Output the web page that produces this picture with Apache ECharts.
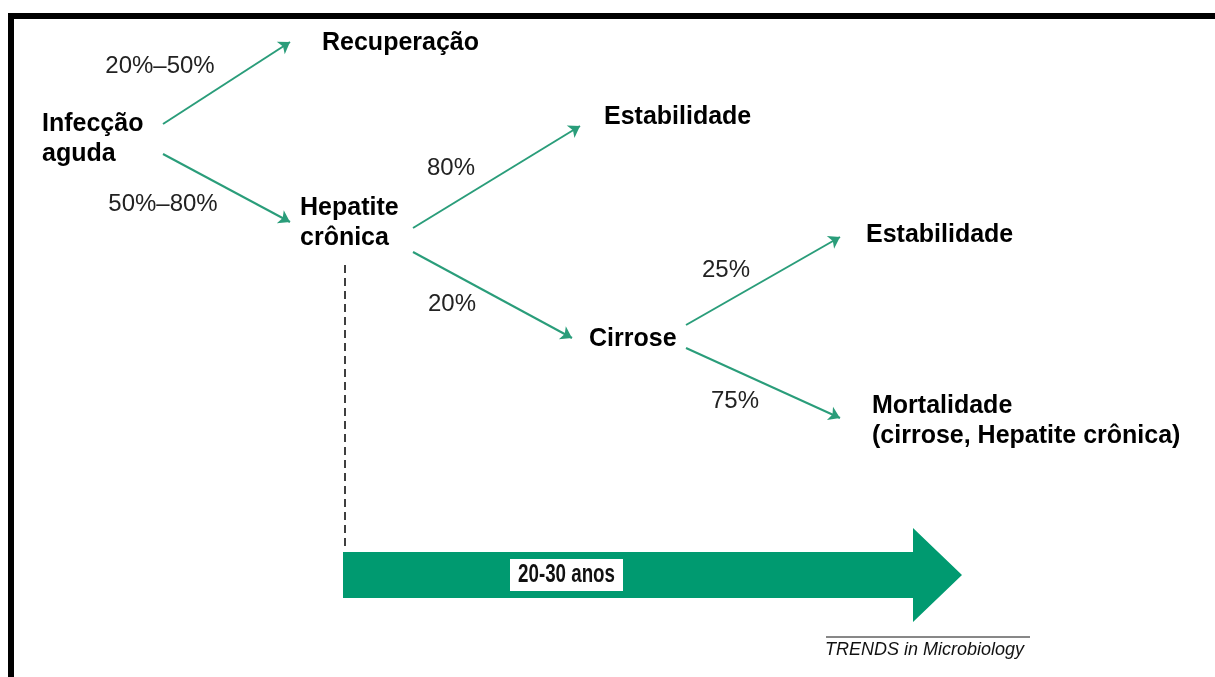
<!DOCTYPE html>
<html>
<head>
<meta charset="utf-8">
<script src="https://cdn.jsdelivr.net/npm/echarts@6/dist/echarts.min.js"></script>
<style>
html, body { margin: 0; padding: 0; background: #fff; }
#main { width: 1215px; height: 677px; }
</style>
</head>
<body>
<div id="main"></div>
<script>
// estágios da doença (centro do bloco de texto, coordenadas do diagrama)
var stageNames = ['Recuperação', 'Infecção\naguda', 'Hepatite\ncrônica', 'Estabilidade', 'Cirrose', 'Estabilidade', 'Mortalidade\n(cirrose, Hepatite crônica)'];
var stageX = [322, 42, 300, 604, 589, 866, 872];
var stageY = [43, 139, 223, 117, 339, 235, 421];

// probabilidades nas setas
var probLabels = ['20%–50%', '50%–80%', '80%', '20%', '25%', '75%'];
var probX = [160, 163, 451, 452, 726, 735];
var probY = [66, 204, 168, 304, 270, 401];

// setas: [x inicio, y inicio, x fim, y fim]
var arrows = [
	[163, 124, 290, 42],
	[163, 154, 290, 222],
	[413, 228, 580, 126],
	[413, 252, 572, 338],
	[686, 325, 840, 237],
	[686, 348, 840, 418]
];

// linha do tempo
var timeLabel = '20-30 anos';
var dashLine = [345, 265, 345, 551];
var timeArrow = [343, 913, 962, 552, 598, 528, 622]; // inicio, base da ponta, ponta, topo, base, topo ponta, base ponta
var timeBox = [510, 559, 623, 591];

var source = 'TRENDS in Microbiology';

var green = '#2a9d7a';
var boldFont = '"Liberation Sans", Arial, sans-serif';

var myChart = echarts.init(document.getElementById('main'));

var option = {
	animation: false,
	backgroundColor: '#ffffff',
	grid: { left: 0, right: 0, top: 0, bottom: 0 },
	xAxis: { type: 'value', min: 0, max: 1215, show: false },
	yAxis: { type: 'value', min: 0, max: 677, inverse: true, show: false },
	graphic: [
		{ type: 'rect', shape: { x: 8, y: 13, width: 1207, height: 6 }, style: { fill: '#000' } },
		{ type: 'rect', shape: { x: 8, y: 13, width: 6, height: 664 }, style: { fill: '#000' } },
		{ type: 'line', shape: { x1: 826, y1: 637, x2: 1030, y2: 637 }, style: { stroke: '#111', lineWidth: 1 } },
		{
			type: 'text', x: 825, y: 650,
			style: {
				text: source, fill: '#111', fontSize: 18, fontStyle: 'italic',
				fontFamily: boldFont, verticalAlign: 'middle'
			}
		}
	],
	series: [{
		// setas finas
		type: 'lines',
		coordinateSystem: 'cartesian2d',
		symbol: ['none', 'arrow'],
		symbolSize: [0, 11],
		lineStyle: { color: green, width: 2, opacity: 1 },
		data: arrows.map(function (a) {
			return { coords: [[a[0], a[1]], [a[2], a[3]]] };
		}),
		z: 2
	}, {
		// linha tracejada
		type: 'lines',
		coordinateSystem: 'cartesian2d',
		lineStyle: { color: '#000', width: 1.5, type: [8, 5], opacity: 1 },
		data: [{ coords: [[dashLine[0], dashLine[1]], [dashLine[2], dashLine[3]]] }],
		z: 1
	}, {
		// seta grande da linha do tempo
		type: 'custom',
		coordinateSystem: 'cartesian2d',
		data: [timeArrow.concat(timeBox)],
		renderItem: function (params, api) {
			var p = function (x, y) { return api.coord([x, y]); };
			var s = api.value(0), hb = api.value(1), tip = api.value(2);
			var top = api.value(3), bot = api.value(4), htop = api.value(5), hbot = api.value(6);
			var mid = (top + bot) / 2;
			var b0 = p(api.value(7), api.value(8)), b1 = p(api.value(9), api.value(10));
			return {
				type: 'group',
				children: [{
					type: 'polygon',
					shape: { points: [p(s, top), p(hb, top), p(hb, htop), p(tip, mid), p(hb, hbot), p(hb, bot), p(s, bot)] },
					style: { fill: '#009a70' }
				}, {
					type: 'rect',
					shape: { x: b0[0], y: b0[1], width: b1[0] - b0[0], height: b1[1] - b0[1] },
					style: { fill: '#fff' }
				}, {
					type: 'text',
					x: (b0[0] + b1[0]) / 2,
					y: (b0[1] + b1[1]) / 2,
					scaleX: 0.75,
					style: {
						x: 0, y: 0,
						text: timeLabel, fill: '#111', fontSize: 25, fontWeight: 'bold',
						fontFamily: boldFont,
						align: 'center', verticalAlign: 'middle'
					}
				}]
			};
		},
		z: 1
	}, {
		// nomes dos estágios
		type: 'scatter',
		symbolSize: 0,
		itemStyle: { opacity: 1 },
		data: stageNames.map(function (n, i) { return { name: n, value: [stageX[i], stageY[i]] }; }),
		label: {
			show: true,
			position: [0, 0],
			align: 'left',
			verticalAlign: 'middle',
			formatter: '{b}',
			color: '#000',
			fontSize: 25,
			fontWeight: 'bold',
			lineHeight: 30,
			fontFamily: boldFont
		},
		z: 3
	}, {
		// probabilidades
		type: 'scatter',
		symbolSize: 0,
		itemStyle: { opacity: 1 },
		data: probLabels.map(function (n, i) { return { name: n, value: [probX[i], probY[i]] }; }),
		label: {
			show: true,
			position: [0, 0],
			align: 'center',
			verticalAlign: 'middle',
			formatter: '{b}',
			color: '#222',
			fontSize: 24,
			fontFamily: boldFont
		},
		z: 3
	}]
};

myChart.setOption(option);
</script>
</body>
</html>
